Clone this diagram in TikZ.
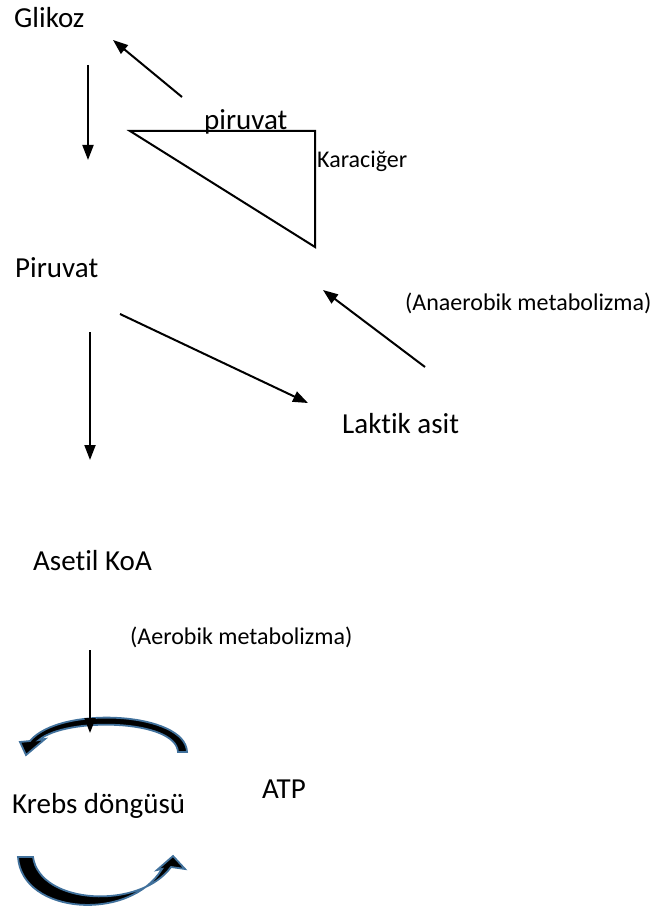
\documentclass[tikz,border=0pt]{standalone}
\usepackage{fontspec}
\setmainfont{Carlito}[Ligatures={NoCommon}]
\usetikzlibrary{arrows.meta}
\definecolor{cyclblue}{HTML}{41719C}
\tikzset{
  big/.style={anchor=base west,inner sep=0pt,font=\fontsize{29}{33}\selectfont},
  small/.style={anchor=base west,inner sep=0pt,font=\fontsize{24}{28}\selectfont},
  flow/.style={line width=2pt,-{Triangle[length=15pt,width=11pt]}},
  cyc/.style={fill=black,draw=cyclblue,line width=1.8pt,line join=miter},
}
\begin{document}
\begin{tikzpicture}[x=1pt,y=-1pt]
\useasboundingbox (0,0) rectangle (653,909);
% texts
\node[big] (glikoz) at (14,28) {Glikoz};
\node[big] (piruvat) at (15,277) {Piruvat};
\node[big] (laktik) at (342,433) {Laktik asit};
\node[big] (asetil) at (33,570) {Asetil KoA};
\node[big] (krebs) at (12,813) {Krebs döngüsü};
\node[big] (atp) at (262,798) {ATP};
\node[big] (piru2) at (204,130) {piruvat};
\node[small] (kara) at (317,168) {Karaciğer};
\node[small] (anaer) at (405,310) {(Anaerobik metabolizma)};
\node[small] (aer) at (130,644) {(Aerobik metabolizma)};
% coordinates for connectors
\coordinate (a1s) at (88,65);   \coordinate (a1e) at (88,160);
\coordinate (a2s) at (182,97);  \coordinate (a2e) at (113,40);
\coordinate (a3s) at (90,332);  \coordinate (a3e) at (90,460);
\coordinate (a4s) at (120,314); \coordinate (a4e) at (308,403);
\coordinate (a5s) at (425,367); \coordinate (a5e) at (323,290);
\coordinate (a6s) at (90,650);  \coordinate (a6e) at (90,733);
\coordinate (t1) at (130,131); \coordinate (t2) at (315,131); \coordinate (t3) at (315,247);
% triangle
\draw[line width=2pt,line join=miter] (t1) -- (t2) -- (t3) -- cycle;
% arrows
\draw[flow] (a1s) -- (a1e);
\draw[flow] (a2s) -- (a2e);
\draw[flow] (a3s) -- (a3e);
\draw[flow] (a4s) -- (a4e);
\draw[flow] (a5s) -- (a5e);
% cycle arrows
\draw[cyc] (187,752) .. controls (186,712) and (60,705) .. (30,741)
  -- (20,742) -- (26,755) -- (45,739) -- (39,740)
  .. controls (66,717) and (176,719) .. (178,752) -- cycle;
\draw[cyc] (18,857) .. controls (22,915) and (130,922) .. (162,869)
  -- (157,870) -- (173,856) -- (185,869) -- (171,867)
  .. controls (140,910) and (40,905) .. (33,857) -- cycle;
\draw[flow] (a6s) -- (a6e);
\end{tikzpicture}
\end{document}
